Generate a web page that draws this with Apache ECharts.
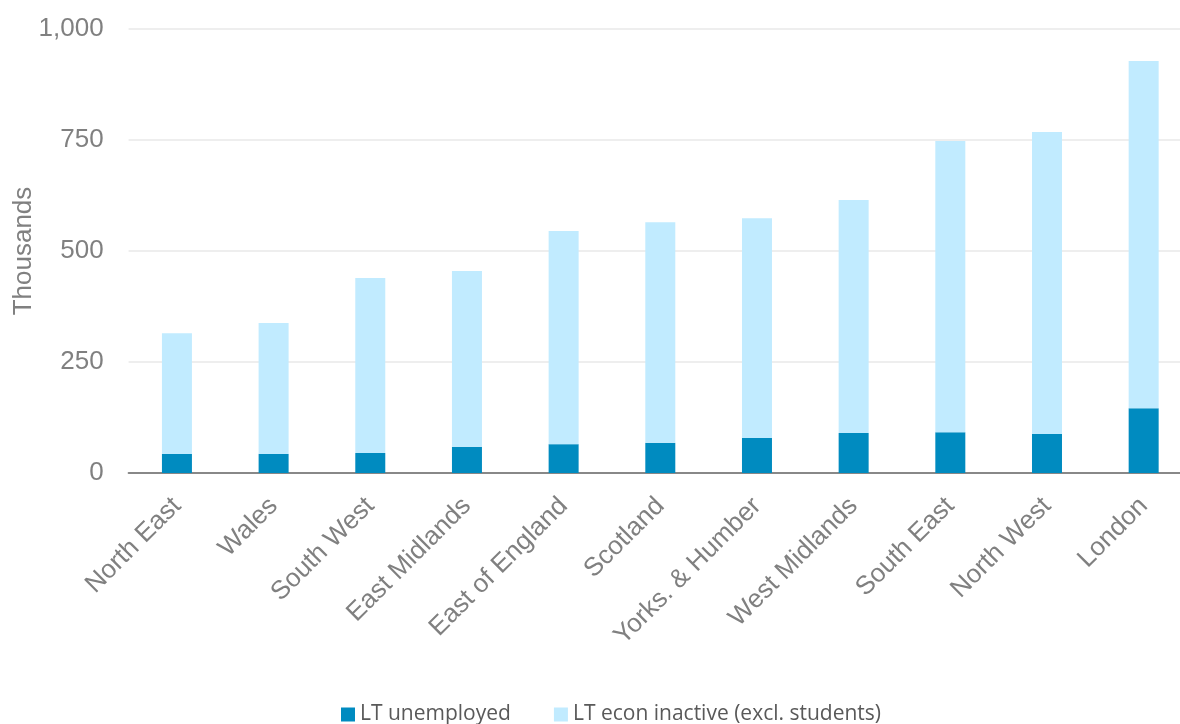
<!DOCTYPE html>
<html><head><meta charset="utf-8">
<script src="https://cdn.jsdelivr.net/npm/echarts@6/dist/echarts.min.js"></script>
<style>html,body{margin:0;padding:0;background:#fff}#c{width:1180px;height:724px}</style>
</head><body><div id="c"></div>
<script>
const categories = ['North East','Wales','South West','East Midlands','East of England','Scotland','Yorks. & Humber','West Midlands','South East','North West','London'];
const ltUnemployed = [43, 43, 45, 59, 65, 68, 79, 90, 92, 88, 146];
const ltInactive = [272, 295, 394, 396, 480, 497, 495, 525, 656, 680, 782];
const yTicks = [0, 250, 500, 750, 1000];

const chart = echarts.init(document.getElementById('c'));
chart.setOption({
  animation: false,
  grid: {left: 128.6, right: -12, top: 29, bottom: 251, containLabel: false, outerBoundsMode: 'none'},
  legend: {
    top: 699, left: 336, itemWidth: 14, itemHeight: 14, itemGap: 43,
    icon: 'rect',
    textStyle: {fontFamily: 'Open Sans', fontSize: 21, color: '#595959'},
    data: ['LT unemployed', 'LT econ inactive (excl. students)']
  },
  xAxis: {
    type: 'category', data: categories,
    axisLine: {lineStyle: {color: '#888', width: 2}},
    axisTick: {show: false},
    axisLabel: {rotate: 45, interval: 0, fontFamily: 'Liberation Sans', fontSize: 26, color: '#808080', margin: 29}
  },
  yAxis: {
    type: 'value', min: 0, max: 1000, interval: 250,
    name: 'Thousands', nameLocation: 'middle', nameGap: 105, nameRotate: 90, nameMoveOverlap: false,
    nameTextStyle: {fontFamily: 'Liberation Sans', fontSize: 26, color: '#808080', align: 'center', verticalAlign: 'middle'},
    axisLine: {show: false}, axisTick: {show: false},
    axisLabel: {fontFamily: 'Liberation Sans', fontSize: 26, color: '#808080', margin: 25,
      formatter: v => yTicks.includes(v) ? v.toLocaleString('en-US') : ''},
    splitLine: {lineStyle: {color: '#eeeeee', width: 2}}
  },
  series: [
    {name: 'LT unemployed', type: 'bar', stack: 't', data: ltUnemployed, barWidth: 30,
     itemStyle: {color: '#008BC0'}},
    {name: 'LT econ inactive (excl. students)', type: 'bar', stack: 't', data: ltInactive, barWidth: 30,
     itemStyle: {color: '#C1EBFF'}}
  ]
});
</script></body></html>
